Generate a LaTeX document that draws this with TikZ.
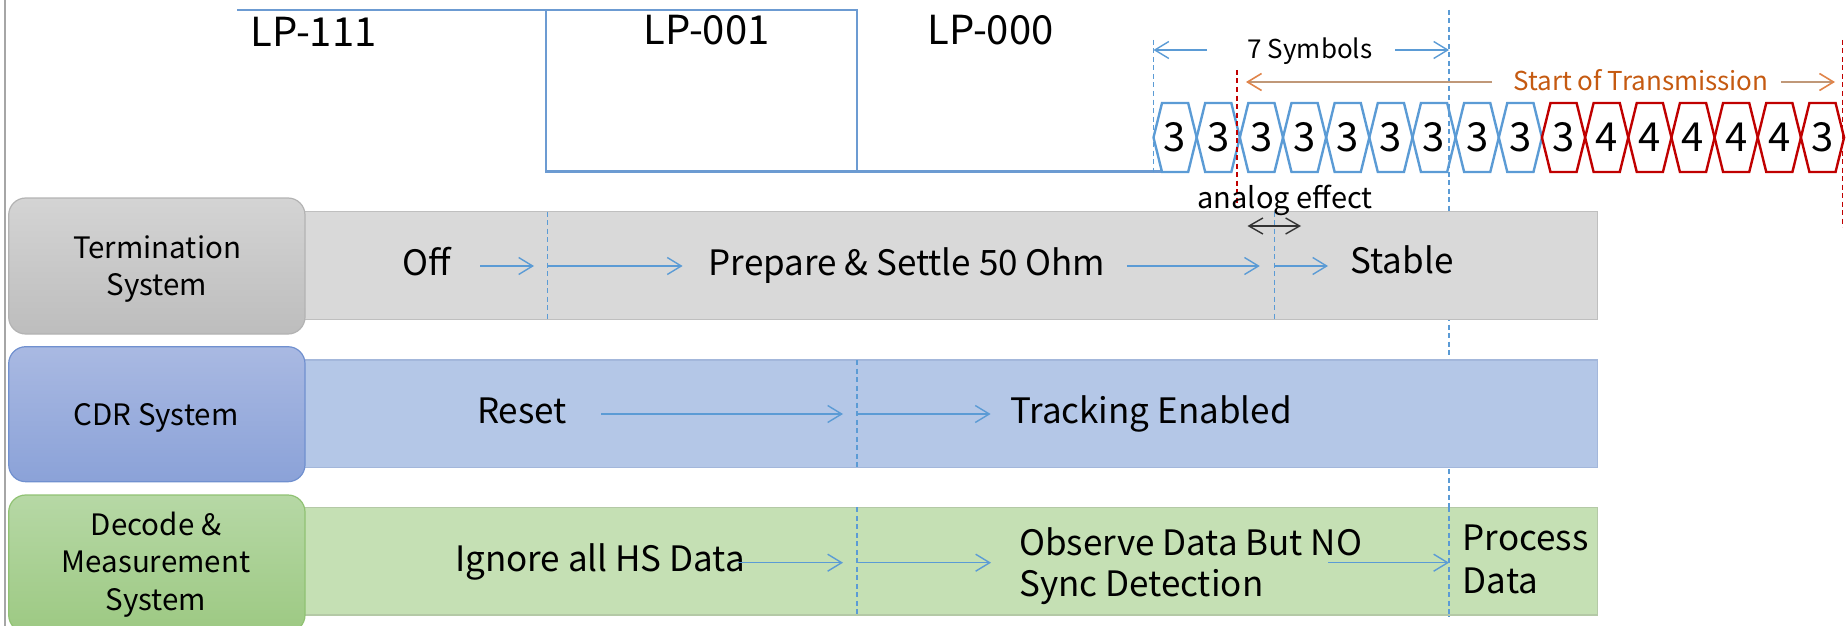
\documentclass[tikz,border=0pt]{standalone}
\usepackage{fontspec}
\setmainfont{Noto Sans CJK KR}
\usetikzlibrary{arrows.meta}
\definecolor{wave}{HTML}{6C9BD2}
\definecolor{symblue}{HTML}{5B9BD5}
\definecolor{symred}{HTML}{C00000}
\definecolor{arrblue}{HTML}{5B9BD5}
\definecolor{sotext}{HTML}{C55A11}
\definecolor{soline}{HTML}{C09878}
\definecolor{sohead}{HTML}{E0844A}
\definecolor{graybar}{HTML}{D9D9D9}
\definecolor{grayedge}{HTML}{BFBFBF}
\definecolor{bluebar}{HTML}{B4C7E7}
\definecolor{blueedge}{HTML}{A3B7DB}
\definecolor{greenbar}{HTML}{C5E0B4}
\definecolor{greenedge}{HTML}{B4C9A6}
\definecolor{borderline}{HTML}{A6A6A6}
\definecolor{gtop}{HTML}{D4D4D4}
\definecolor{gbot}{HTML}{BDBDBD}
\definecolor{gline}{HTML}{B3B3B3}
\definecolor{btop}{HTML}{A9B9E2}
\definecolor{bbot}{HTML}{8BA2D8}
\definecolor{bline}{HTML}{7090CF}
\definecolor{ntop}{HTML}{B6D8A5}
\definecolor{nbot}{HTML}{9DC983}
\definecolor{nline}{HTML}{90C273}
\tikzset{
  wavel/.style={wave, line width=2.6pt},
  hexbox/.style={line width=2.4pt, line join=miter},
  digit/.style={inner sep=0pt, font=\fontsize{40}{44}\selectfont},
  lplabel/.style={inner sep=0pt, anchor=base, font=\fontsize{40}{44}\selectfont},
  rowtext/.style={inner sep=0pt, anchor=base, font=\fontsize{35}{40}\selectfont},
  rowtextl/.style={inner sep=0pt, anchor=base west, font=\fontsize{35}{40}\selectfont},
  boxtext/.style={inner sep=0pt, anchor=base, font=\fontsize{29.5}{34}\selectfont},
  smalltext/.style={inner sep=0pt, anchor=base, font=\fontsize{26}{30}\selectfont},
  flow/.style={arrblue, line width=1.4pt, -{Straight Barb[length=14pt, width=17pt, line width=1.4pt]}},
  sep/.style={arrblue, line width=1.3pt, dash pattern=on 5pt off 3.5pt},
  redsep/.style={symred, line width=1.3pt, dash pattern=on 5pt off 3.5pt},
  bar/.style={line width=1.2pt},
  labelbox/.style={rounded corners=17pt, line width=1.2pt},
}
\begin{document}
\begin{tikzpicture}[x=1pt, y=-1pt]
\useasboundingbox (0,0) rectangle (1848,626);
% left border
\draw[borderline, line width=2.6pt] (5,0) -- (5,626);

% long dashed line behind the bars
\coordinate (vtop) at (1449,10);
\coordinate (vbot) at (1449,617);
\draw[sep] (vtop) -- (vbot);

% waveform
\draw[wavel] (237,10) -- (857,10) -- (857,171.7);
\draw[wavel] (546,10) -- (546,171.7) -- (1161.5,171.7);

\node[lplabel] (lp111) at (313.5,47) {LP-111};
\node[lplabel] (lp001) at (706.5,45) {LP-001};
\node[lplabel] (lp000) at (990.5,45) {LP-000};

% symbols
\foreach \d [count=\i from 0] in {3,3,3,3,3,3,3,3,3,3,4,4,4,4,4,3} {
  \pgfmathsetmacro\xa{1153.5+43.16*\i}
  \pgfmathsetmacro\xb{\xa+43.16}
  \pgfmathsetmacro\xc{\xa+21.58}
  \ifnum\i<9 \def\col{symblue}\else\def\col{symred}\fi
  \draw[hexbox, \col] (\xa,137.5) -- (\xa+8.5,103) -- (\xb-8.5,103) -- (\xb,137.5) -- (\xb-8.5,172) -- (\xa+8.5,172) -- cycle;
  \node[digit] (s\i) at (\xc,137.5) {\d};
}

% dashed markers at the top
\draw[sep] (1153.5,40) -- (1153.5,172);
\draw[redsep] (1237,70) -- (1237,205);
\draw[redsep] (1842.7,40) -- (1842.7,227);

% 7 symbols
\node[smalltext] (sym7) at (1310,58.5) {7 Symbols};
\coordinate (s7l) at (1207,50);
\coordinate (s7lh) at (1153.5,50);
\coordinate (s7r) at (1395,50);
\coordinate (s7rh) at (1449,50);
\draw[flow] (s7l) -- (s7lh);
\draw[flow] (s7r) -- (s7rh);

% start of transmission
\node[smalltext, text=sotext] (sot) at (1641,90) {Start of Transmission};
\coordinate (sotl) at (1492,82);
\coordinate (sotlh) at (1246,82);
\coordinate (sotr) at (1781,82);
\coordinate (sotrh) at (1835,82);
\draw[soline, line width=1.6pt, -{Straight Barb[length=14pt, width=17pt, line width=1.6pt, color=sohead]}] (sotl) -- (sotlh);
\draw[soline, line width=1.6pt, -{Straight Barb[length=14pt, width=17pt, line width=1.6pt, color=sohead]}] (sotr) -- (sotrh);

% bars
\draw[bar, grayedge, fill=graybar] (304.5,211.7) rectangle (1597.6,319.3);
\draw[bar, blueedge, fill=bluebar] (304.5,360) rectangle (1597.8,467.7);
\draw[bar, greenedge, fill=greenbar] (304.5,507.3) rectangle (1597.8,615);

% label boxes
\draw[labelbox, draw=gline, top color=gtop, bottom color=gbot] (8.7,198) rectangle (305,334);
\draw[labelbox, draw=bline, top color=btop, bottom color=bbot] (8.7,346.7) rectangle (305,481.7);
\draw[labelbox, draw=nline, top color=ntop, bottom color=nbot] (8.7,495) rectangle (305,632);

\node[boxtext] (t1) at (157,258) {Termination};
\node[boxtext] (t2) at (157,295) {System};
\node[boxtext] (cdr) at (156,425) {CDR System};
\node[boxtext] (d1) at (156,535) {Decode \&};
\node[boxtext] (d2) at (156,572.7) {Measurement};
\node[boxtext] (d3) at (156,610) {System};

% separators on bars
\draw[sep] (547.6,211.7) -- (547.6,319.3);
\draw[sep] (1274.4,211.7) -- (1274.4,320);
\draw[sep] (857,360) -- (857,467.7);
\draw[sep] (857,507.3) -- (857,615);
\draw[sep] (1449,507.3) -- (1449,617);

% analog effect
\node[inner sep=0pt, anchor=base, font=\fontsize{29}{33}\selectfont] (analog) at (1285,208) {analog effect};
\coordinate (ana) at (1247.5,226);
\coordinate (anb) at (1301,226);
\draw[black!80, line width=1.4pt, {Straight Barb[length=14pt, width=16pt, line width=1.4pt]}-{Straight Barb[length=14pt, width=16pt, line width=1.4pt]}] (ana) -- (anb);

% termination row
\node[rowtext] (off) at (427,275) {Off};
\node[rowtext] (prep) at (907,275) {Prepare \& Settle 50 Ohm};
\node[rowtext] (stable) at (1402,273) {Stable};
\coordinate (a1) at (480,266); \coordinate (a1h) at (534,266);
\coordinate (a2) at (547.6,266); \coordinate (a2h) at (682.6,266);
\coordinate (a3) at (1126.8,266); \coordinate (a3h) at (1259.8,266);
\coordinate (a4) at (1274.4,266); \coordinate (a4h) at (1328,266);
\draw[flow] (a1) -- (a1h);
\draw[flow] (a2) -- (a2h);
\draw[flow] (a3) -- (a3h);
\draw[flow] (a4) -- (a4h);

% CDR row
\node[rowtext] (reset) at (522,423.5) {Reset};
\node[rowtext] (track) at (1151,423.5) {Tracking Enabled};
\coordinate (b1) at (601,414); \coordinate (b1h) at (843,414);
\coordinate (b2) at (857,414); \coordinate (b2h) at (990.6,414);
\draw[flow] (b1) -- (b1h);
\draw[flow] (b2) -- (b2h);

% decode row
\node[rowtext] (ignore) at (600,571.7) {Ignore all HS Data};
\node[rowtextl] (obs1) at (1019,555) {Observe Data But NO};
\node[rowtextl] (obs2) at (1019,596.7) {Sync Detection};
\node[rowtextl] (proc1) at (1462.5,550) {Process};
\node[rowtextl] (proc2) at (1462.5,593.3) {Data};
\coordinate (c1) at (738,562.7); \coordinate (c1h) at (843,562.7);
\coordinate (c2) at (857,562.7); \coordinate (c2h) at (991,562.7);
\coordinate (c3) at (1328,562.7); \coordinate (c3h) at (1449,562.7);
\draw[flow] (c1) -- (c1h);
\draw[flow] (c2) -- (c2h);
\draw[flow] (c3) -- (c3h);
\end{tikzpicture}
\end{document}
